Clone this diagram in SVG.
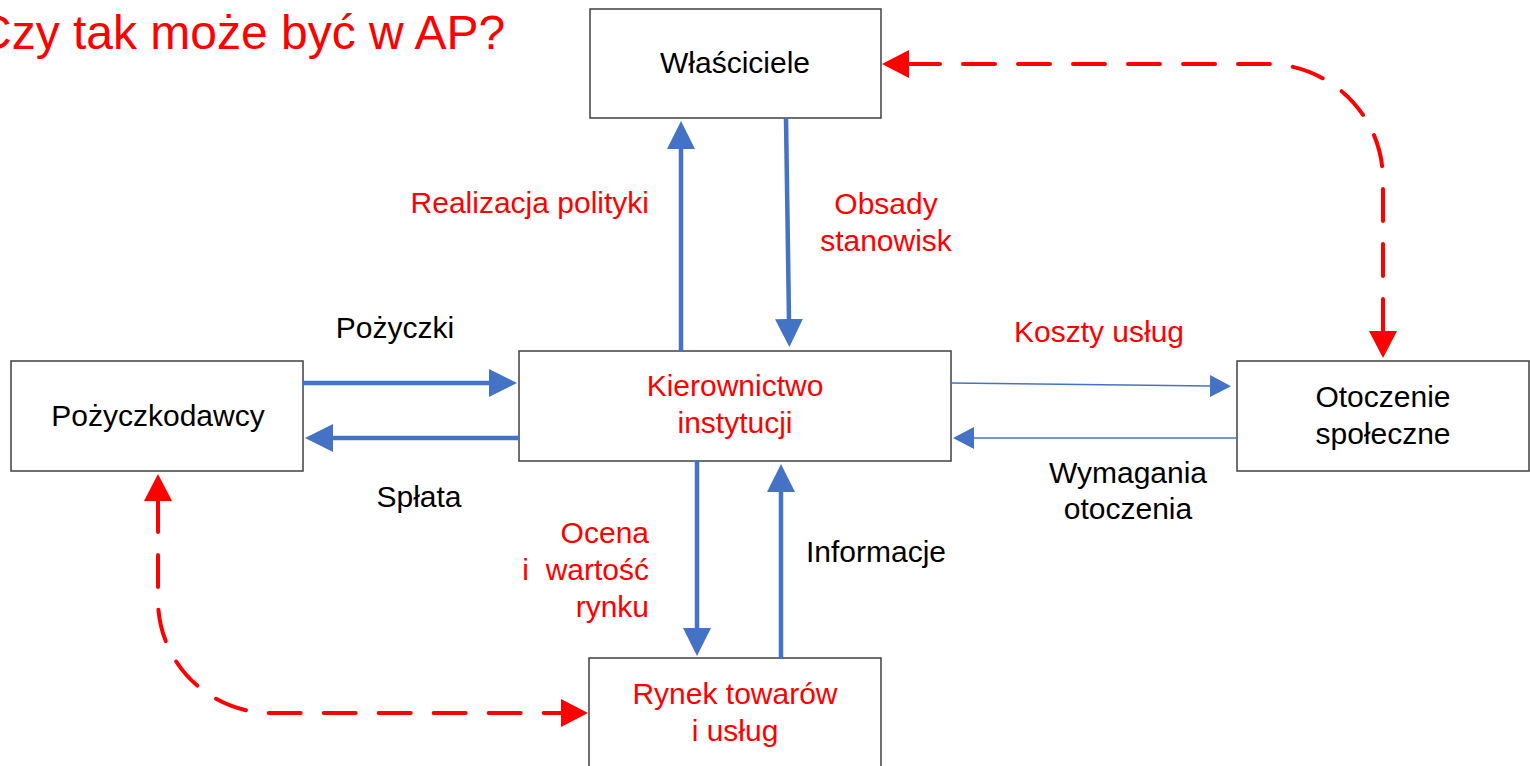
<svg xmlns="http://www.w3.org/2000/svg" width="1530" height="766" viewBox="0 0 1530 766">
<style>
  text { font-family: "Liberation Sans", Arial, sans-serif; font-size: 30px; fill: #000; }
  .red { fill: #FF0000; }
  .title { font-size: 48px; fill: #FF0000; }
  .mid { text-anchor: middle; }
  .end { text-anchor: end; }
  .box { fill: #FFFFFF; stroke: #404040; stroke-width: 1.5; }
  .thick { fill: none; stroke: #4472C4; stroke-width: 4.5; marker-end: url(#hb); }
  .thin { fill: none; stroke: #4472C4; stroke-width: 1.6; marker-end: url(#hs); }
  .dash { fill: none; stroke: #FF0000; stroke-width: 4; stroke-dasharray: 32 23; stroke-linecap: round; marker-start: url(#hr); marker-end: url(#hr); }
</style>
<defs>
  <marker id="hb" markerUnits="userSpaceOnUse" markerWidth="28" markerHeight="28" viewBox="0 0 28 28" refX="1" refY="14" orient="auto">
    <path d="M0,0 L28,14 L0,28 z" fill="#4472C4"/>
  </marker>
  <marker id="hs" markerUnits="userSpaceOnUse" markerWidth="21" markerHeight="22" viewBox="0 0 21 22" refX="1" refY="11" orient="auto">
    <path d="M0,0 L21,11 L0,22 z" fill="#4472C4"/>
  </marker>
  <marker id="hr" markerUnits="userSpaceOnUse" markerWidth="27" markerHeight="28" viewBox="0 0 27 28" refX="1" refY="14" orient="auto-start-reverse">
    <path d="M0,0 L27,14 L0,28 z" fill="#FF0000"/>
  </marker>
</defs>

<text class="title" x="-23" y="49">Czy tak może być w AP?</text>

<g id="wlasciciele">
  <rect class="box" x="590" y="9" width="291" height="109"/>
  <text class="mid" x="735" y="73">Właściciele</text>
</g>
<g id="kierownictwo">
  <rect class="box" x="519" y="351" width="432" height="110"/>
  <text class="mid red" x="735" y="396">Kierownictwo</text>
  <text class="mid red" x="735" y="433">instytucji</text>
</g>
<g id="pozyczkodawcy">
  <rect class="box" x="11" y="361" width="292" height="110"/>
  <text class="mid" x="158" y="426">Pożyczkodawcy</text>
</g>
<g id="otoczenie">
  <rect class="box" x="1237" y="361" width="292" height="110"/>
  <text class="mid" x="1383" y="407">Otoczenie</text>
  <text class="mid" x="1383" y="444">społeczne</text>
</g>
<g id="rynek">
  <rect class="box" x="589" y="658" width="292" height="130"/>
  <text class="mid red" x="735" y="704">Rynek towarów</text>
  <text class="mid red" x="735" y="741">i usług</text>
</g>

<g id="connectors">
  <path class="thick" d="M681,351 L681,148"/>
  <path class="thick" d="M786,118 L789,320"/>
  <path class="thick" d="M302,383 L490,383"/>
  <path class="thick" d="M520,438 L332,438"/>
  <path class="thick" d="M697,460 L697,629"/>
  <path class="thick" d="M781,659 L781,491"/>
  <path class="thin" d="M951,383 L1211,386"/>
  <path class="thin" d="M1237,438 L973,438"/>
  <path class="dash" d="M908,64 H1267 A116,116 0 0 1 1383,180 V332"/>
  <path class="dash" d="M158,500 V600 A113,113 0 0 0 271,713 H562"/>
</g>

<g id="labels">
  <text class="end red" x="649" y="213">Realizacja polityki</text>
  <text class="mid red" x="886" y="214">Obsady</text>
  <text class="mid red" x="886" y="251">stanowisk</text>
  <text class="mid" x="395" y="338">Pożyczki</text>
  <text class="mid red" x="1099" y="342">Koszty usług</text>
  <text class="mid" x="419" y="507">Spłata</text>
  <text class="mid" x="1128" y="483">Wymagania</text>
  <text class="mid" x="1128" y="519">otoczenia</text>
  <text class="end red" x="649" y="543">Ocena</text>
  <text class="end red" x="649" y="580" xml:space="preserve">i  wartość</text>
  <text class="end red" x="649" y="617">rynku</text>
  <text class="mid" x="876" y="562">Informacje</text>
</g>
</svg>
